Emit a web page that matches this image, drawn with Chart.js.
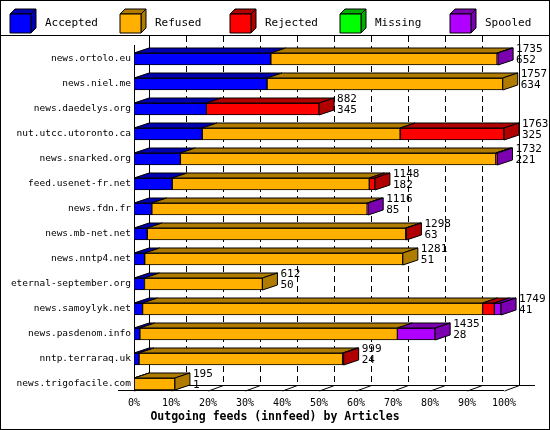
<!DOCTYPE html>
<html><head><meta charset="utf-8">
<script src="https://cdn.jsdelivr.net/npm/chart.js@4"></script>
<style>html,body{margin:0;padding:0;background:#fff}#w{width:550px;height:430px;position:relative}</style>
</head><body><div id="w"><canvas id="c"></canvas></div>
<script>
const categories=["news.ortolo.eu","news.niel.me","news.daedelys.org","nut.utcc.utoronto.ca","news.snarked.org","feed.usenet-fr.net","news.fdn.fr","news.mb-net.net","news.nntp4.net","eternal-september.org","news.samoylyk.net","news.pasdenom.info","nntp.terraraq.uk","news.trigofacile.com"];
const offered=[1735,1757,882,1763,1732,1148,1116,1298,1281,612,1749,1435,999,195];
const accepted=[652,634,345,325,221,182,85,63,51,50,41,28,24,1];
const refused=[1078,1123,0,943,1503,939,1026,1232,1230,562,1620,1227,970,194];
const rejected=[0,0,537,495,3,27,0,3,0,0,56,0,5,0];
const missing=[0,0,0,0,0,0,0,0,0,0,0,0,0,0];
const spooled=[5,0,0,0,5,0,5,0,0,0,32,180,0,0];
const tickLabels=["0%","10%","20%","30%","40%","50%","60%","70%","80%","90%","100%"];
const seriesNames=["Accepted","Refused","Rejected","Missing","Spooled"];
const front=["#0000ff","#ffb000","#ff0000","#00ff00","#b000ff"];
const dark=["#0000b0","#b07c00","#b00000","#00b000","#7a00b0"];
const DX=15,DY=5;
const FONT="10px 'DejaVu Sans Mono'";
const maxVal=Math.max(...offered);
const ds=[accepted,refused,rejected,missing,spooled].map((d,i)=>({label:seriesNames[i],data:d,backgroundColor:front[i],borderColor:'#000',borderWidth:1,borderSkipped:false,barThickness:12}));
function poly(ctx,pts,fill){ctx.beginPath();ctx.moveTo(pts[0][0],pts[0][1]);for(const p of pts.slice(1))ctx.lineTo(p[0],p[1]);ctx.closePath();ctx.fillStyle=fill;ctx.fill();ctx.strokeStyle='#000';ctx.lineWidth=1;ctx.stroke();}
const deco={id:'deco',
beforeDatasetsDraw(ch){const ctx=ch.ctx,x=ch.scales.x;ctx.save();
 ctx.strokeStyle='#000';ctx.lineWidth=1;
 ctx.beginPath();ctx.moveTo(0,35.5);ctx.lineTo(550,35.5);ctx.stroke();
 const x0=x.getPixelForValue(0),x1=x.getPixelForValue(maxVal);
 ctx.beginPath();ctx.moveTo(Math.round(x0)+0.5,45);ctx.lineTo(Math.round(x0)+0.5,391);
 ctx.moveTo(Math.round(x0+DX)+0.5,36);ctx.lineTo(Math.round(x0+DX)+0.5,385);
 ctx.moveTo(Math.round(x1+DX)+0.5,36);ctx.lineTo(Math.round(x1+DX)+0.5,385);
 ctx.moveTo(x0+DX,385.5);ctx.lineTo(x1+DX+16,385.5);
 ctx.moveTo(x0-16,390.5);ctx.lineTo(x1,390.5);ctx.stroke();
 for(let i=0;i<=10;i++){const px=Math.round(x.getPixelForValue(maxVal*i/10))+0.5;
  ctx.setLineDash([]);ctx.beginPath();ctx.moveTo(px,391);ctx.lineTo(px+DX,385.5);ctx.stroke();
  if(i>0&&i<10){ctx.setLineDash([6,4]);ctx.beginPath();ctx.moveTo(px+DX,36);ctx.lineTo(px+DX,385);ctx.stroke();}}
 ctx.setLineDash([]);
 ctx.fillStyle='#000';ctx.font=FONT;ctx.textAlign='center';ctx.textBaseline='middle';
 tickLabels.forEach((t,i)=>ctx.fillText(t,x.getPixelForValue(maxVal*i/10),403));
 ctx.font="bold 11.5px 'DejaVu Sans Mono'";ctx.fillText("Outgoing feeds (innfeed) by Articles",275,417);
 ctx.font="11px 'DejaVu Sans Mono'";ctx.textAlign='left';
 const lx=[10,120,230,340,450];
 seriesNames.forEach((n,i)=>{const bx=lx[i],by=9;
  poly(ctx,[[bx,by+5],[bx+5,by],[bx+26,by],[bx+21,by+5]],dark[i]);
  poly(ctx,[[bx+21,by+5],[bx+26,by],[bx+26,by+19],[bx+21,by+24]],dark[i]);
  poly(ctx,[[bx,by+5],[bx+21,by+5],[bx+21,by+24],[bx,by+24]],front[i]);
  ctx.fillStyle='#000';ctx.fillText(n,bx+35,by+14);});
 ctx.restore();},
afterDatasetsDraw(ch){const ctx=ch.ctx;ctx.save();
 categories.forEach((c,r)=>{let last=-1,endX=0,top=0,bot=0;
  ch.data.datasets.forEach((d,i)=>{const el=ch.getDatasetMeta(i).data[r];if(!d.data[r])return;
   const l=Math.min(el.base,el.x),rr=Math.max(el.base,el.x);top=el.y-6;bot=el.y+6;
   poly(ctx,[[l,top],[l+DX,top-DY],[rr+DX,top-DY],[rr,top]],dark[i]);last=i;endX=rr;});
  if(last>=0){poly(ctx,[[endX,top],[endX+DX,top-DY],[endX+DX,bot-DY],[endX,bot]],dark[last]);
   ctx.fillStyle='#000';ctx.font="11px 'DejaVu Sans Mono'";ctx.textAlign='left';ctx.textBaseline='middle';
   ctx.fillText(String(offered[r]),endX+DX+3,top-4);ctx.fillText(String(accepted[r]),endX+DX+3,top+7);}
 });
 ctx.strokeStyle='#000';ctx.strokeRect(0.5,0.5,549,429);ctx.restore();}};
new Chart(document.getElementById('c'),{type:'bar',data:{labels:categories,datasets:ds},
options:{indexAxis:'y',responsive:true,maintainAspectRatio:false,animation:false,
layout:{padding:{left:0,right:46,top:46.5,bottom:33.5}},
plugins:{legend:{display:false},tooltip:{enabled:false}},
scales:{x:{stacked:true,min:0,max:maxVal,display:false},
y:{stacked:true,grid:{display:false,drawTicks:false},border:{display:false},
ticks:{color:'#000',font:{family:'DejaVu Sans Mono',size:9.5},padding:3},
afterFit(s){s.width=134;}}}},plugins:[deco]});
</script></body></html>
